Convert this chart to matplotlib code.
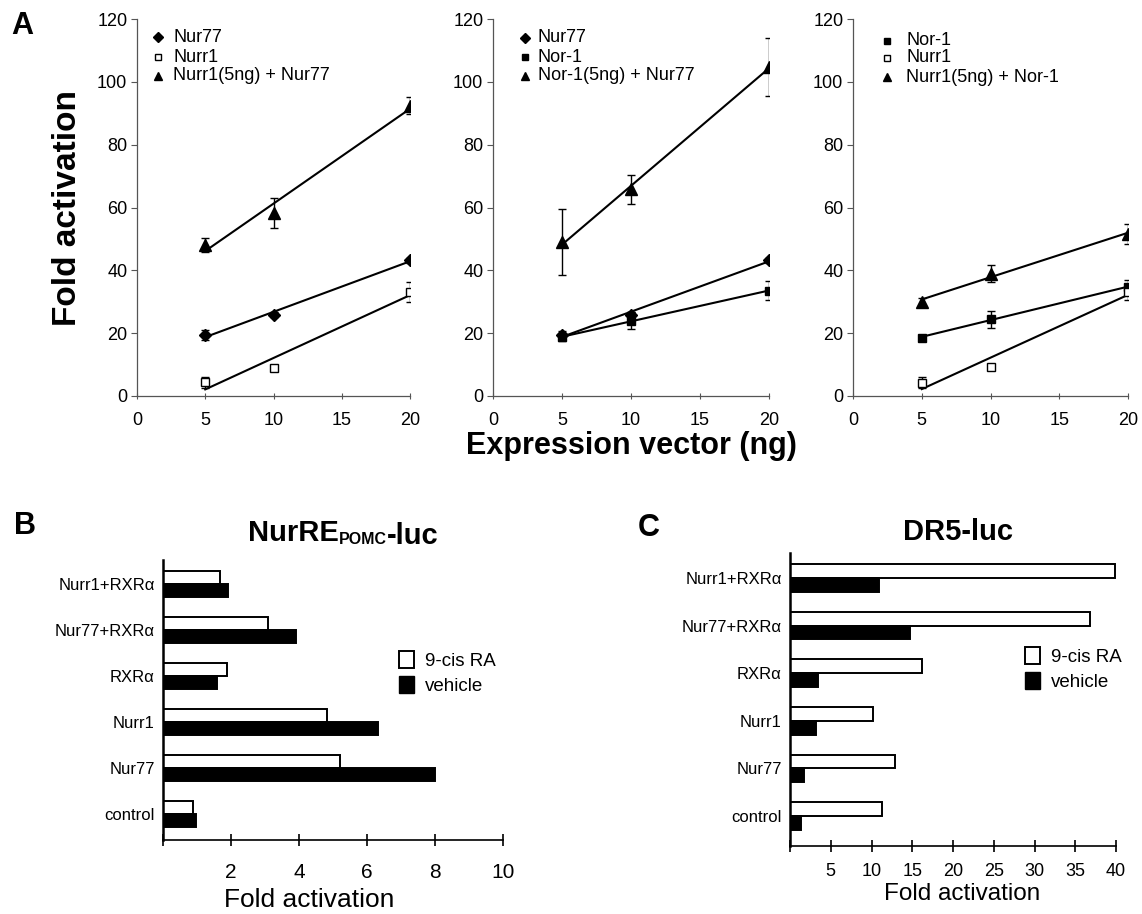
import matplotlib
matplotlib.use("Agg")
import matplotlib.pyplot as plt
import numpy as np
from matplotlib.patches import Patch

plt.rcParams['font.family'] = ['Liberation Sans', 'DejaVu Sans']

ng = [5, 10, 20]

# panel A, left
a1_nur77 = [19.4, 25.8, 43.2]
a1_nur77_err = [1.5, 0.8, 0.8]
a1_nurr1 = [4.3, 8.8, 33.2]
a1_nurr1_err = [1.8, 0.8, 3.2]
a1_combo = [48.1, 58.3, 92.4]
a1_combo_err = [2.3, 4.8, 2.7]

# panel A, middle
a2_nur77 = [19.5, 25.8, 43.2]
a2_nur77_err = [1.2, 1.0, 0.8]
a2_nor1 = [18.7, 24.0, 33.5]
a2_nor1_err = [1.2, 2.8, 3.0]
a2_combo = [48.9, 65.8, 104.7]
a2_combo_err = [10.5, 4.6, 9.3]

# panel A, right
a3_nor1 = [18.6, 24.5, 34.7]
a3_nor1_err = [0.8, 2.7, 2.2]
a3_nurr1 = [4.2, 9.2, 33.2]
a3_nurr1_err = [1.8, 0.8, 2.6]
a3_combo = [30.0, 38.9, 51.6]
a3_combo_err = [1.3, 2.7, 3.2]

# panels B and C
constructs = ["control", "Nur77", "Nurr1", "RXRα", "Nur77+RXRα", "Nurr1+RXRα"]
b_ra = [0.87, 5.20, 4.81, 1.87, 3.10, 1.68]
b_vehicle = [0.97, 8.0, 6.33, 1.60, 3.91, 1.91]
c_ra = [11.3, 12.9, 10.2, 16.2, 36.75, 39.9]
c_vehicle = [1.40, 1.75, 3.16, 3.38, 14.7, 10.96]

W, H = 1142, 914
fig = plt.figure(figsize=(W / 100, H / 100), dpi=100)


def px_axes(left, top, width, height):
    return fig.add_axes([left / W, 1 - (top + height) / H, width / W, height / H])


# marker styles: (marker, facecolor, size, legend size)
STYLES = {
    "diamond": ("D", "black", 6, 5),
    "open": ("s", "white", 6, 5),
    "square": ("s", "black", 6, 5),
    "tri": ("^", "black", 8, 6),
}


def plot_dose(ax, series, leg_x, txt_x, leg_y):
    for (vals, errs, style, label), ly in zip(series, leg_y):
        m, fc, ms, lms = STYLES[style]
        # regression line over the measured doses
        k, b = np.polyfit(ng, vals, 1)
        xs = np.array([ng[0], ng[-1]])
        ax.plot(xs, k * xs + b, color="black", lw=1.5, zorder=2)
        ax.errorbar(ng, vals, yerr=errs, fmt=m, mfc=fc, mec="black", ms=ms,
                    ecolor="black", elinewidth=1, capsize=3, capthick=1, zorder=3)
        ax.plot([leg_x], [ly], marker=m, mfc=fc, mec="black", ms=lms, mew=1,
                transform=ax.transAxes, clip_on=False, ls="none")
        ax.text(txt_x, ly, label, transform=ax.transAxes, va="center", ha="left", fontsize=13)

    ax.set_xlim(0, 20)
    ax.set_ylim(0, 120)
    ax.set_xticks([0, 5, 10, 15, 20])
    ax.set_yticks(range(0, 121, 20))
    for s in ["top", "right"]:
        ax.spines[s].set_visible(False)
    for s in ["left", "bottom"]:
        ax.spines[s].set_color("#555555")
        ax.spines[s].set_linewidth(0.9)
    ax.tick_params(axis="y", direction="out", length=4, width=0.8, color="#555555", pad=3, labelsize=13)
    ax.tick_params(axis="x", direction="inout", length=5, width=0.8, color="#555555", pad=9, labelsize=13)


ax1 = px_axes(137, 19, 273, 377)
ax2 = px_axes(493, 19, 276, 377)
ax3 = px_axes(853, 19, 275, 377)

plot_dose(ax1, [
    (a1_nur77, a1_nur77_err, "diamond", "Nur77"),
    (a1_nurr1, a1_nurr1_err, "open", "Nurr1"),
    (a1_combo, a1_combo_err, "tri", "Nurr1(5ng) + Nur77"),
], 0.077, 0.132, [0.952, 0.899, 0.849])

plot_dose(ax2, [
    (a2_nur77, a2_nur77_err, "diamond", "Nur77"),
    (a2_nor1, a2_nor1_err, "square", "Nor-1"),
    (a2_combo, a2_combo_err, "tri", "Nor-1(5ng) + Nur77"),
], 0.116, 0.163, [0.950, 0.899, 0.849])

plot_dose(ax3, [
    (a3_nor1, a3_nor1_err, "square", "Nor-1"),
    (a3_nurr1, a3_nurr1_err, "open", "Nurr1"),
    (a3_combo, a3_combo_err, "tri", "Nurr1(5ng) + Nor-1"),
], 0.124, 0.193, [0.942, 0.897, 0.846])

ax1.set_ylabel("Fold activation", fontsize=24, fontweight="bold", labelpad=10)
ax2.set_xlabel("Expression vector (ng)", fontsize=22, fontweight="bold")
ax2.xaxis.set_label_coords(0.5, -0.093)


def plot_bars(ax, ra, vehicle, xmax, step, lo, hi, tick_fs, tick_pad, lbl_fs, lbl_x, lbl_y, leg_anchor):
    y = np.arange(len(constructs))
    h = 0.29
    ax.barh(y + h / 2, ra, height=h, color="white", edgecolor="black", lw=1.4, label="9-cis RA")
    ax.barh(y - h / 2, vehicle, height=h, color="black", edgecolor="black", lw=1.4, label="vehicle")
    ax.set_yticks(y)
    ax.set_yticklabels(constructs, fontsize=12)
    ax.set_ylim(lo, hi)
    ax.set_xlim(0, xmax)
    ticks = np.arange(0, xmax + step / 2, step)
    ax.set_xticks(ticks)
    ax.set_xticklabels([""] + ["%g" % t for t in ticks[1:]])
    for s in ["top", "right"]:
        ax.spines[s].set_visible(False)
    ax.spines["left"].set_linewidth(1.8)
    ax.spines["bottom"].set_linewidth(1.2)
    ax.tick_params(axis="y", length=0, pad=6)
    ax.tick_params(axis="x", direction="inout", length=9, width=1.2, pad=tick_pad, labelsize=tick_fs)
    ax.set_xlabel("Fold activation", fontsize=lbl_fs, va="center")
    ax.xaxis.set_label_coords(lbl_x, lbl_y)
    handles = [Patch(facecolor="white", edgecolor="black", lw=1.4), Patch(facecolor="black", edgecolor="black")]
    ax.legend(handles, ["9-cis RA", "vehicle"], loc="upper left", bbox_to_anchor=leg_anchor,
              frameon=False, fontsize=13.5, handlelength=0.8, handleheight=1.0,
              handletextpad=0.6, labelspacing=0.35, borderpad=0, borderaxespad=0)


axB = px_axes(163, 560, 340, 280)
axC = px_axes(790, 553, 326, 293)
plot_bars(axB, b_ra, b_vehicle, 10, 2, -0.565, 5.52, 15, 12, 19, 0.43, -0.213, (0.694, 0.675))
plot_bars(axC, c_ra, c_vehicle, 40, 5, -0.63, 5.525, 13, 8, 17.5, 0.528, -0.165, (0.72, 0.68))

# titles
t1 = fig.text(248 / W, 1 - 541 / H, "NurRE", fontsize=21, fontweight="bold", va="baseline", ha="left")
t2 = plt.annotate("POMC", xy=(1, 0), xycoords=t1, va="bottom", ha="left", fontsize=11.5, fontweight="bold")
plt.annotate("-luc", xy=(1, 0), xycoords=t2, va="bottom", ha="left", fontsize=21, fontweight="bold",
             xytext=(0, -2), textcoords="offset points")
fig.text(958 / W, 1 - 532 / H, "DR5-luc", fontsize=21, fontweight="bold", ha="center", va="center")

# panel letters
fig.text(22 / W, 1 - 26 / H, "A", fontsize=22, fontweight="bold", ha="center", va="center")
fig.text(25 / W, 1 - 526 / H, "B", fontsize=22, fontweight="bold", ha="center", va="center")
fig.text(649 / W, 1 - 528 / H, "C", fontsize=22, fontweight="bold", ha="center", va="center")

plt.savefig("out.png", dpi=100)
